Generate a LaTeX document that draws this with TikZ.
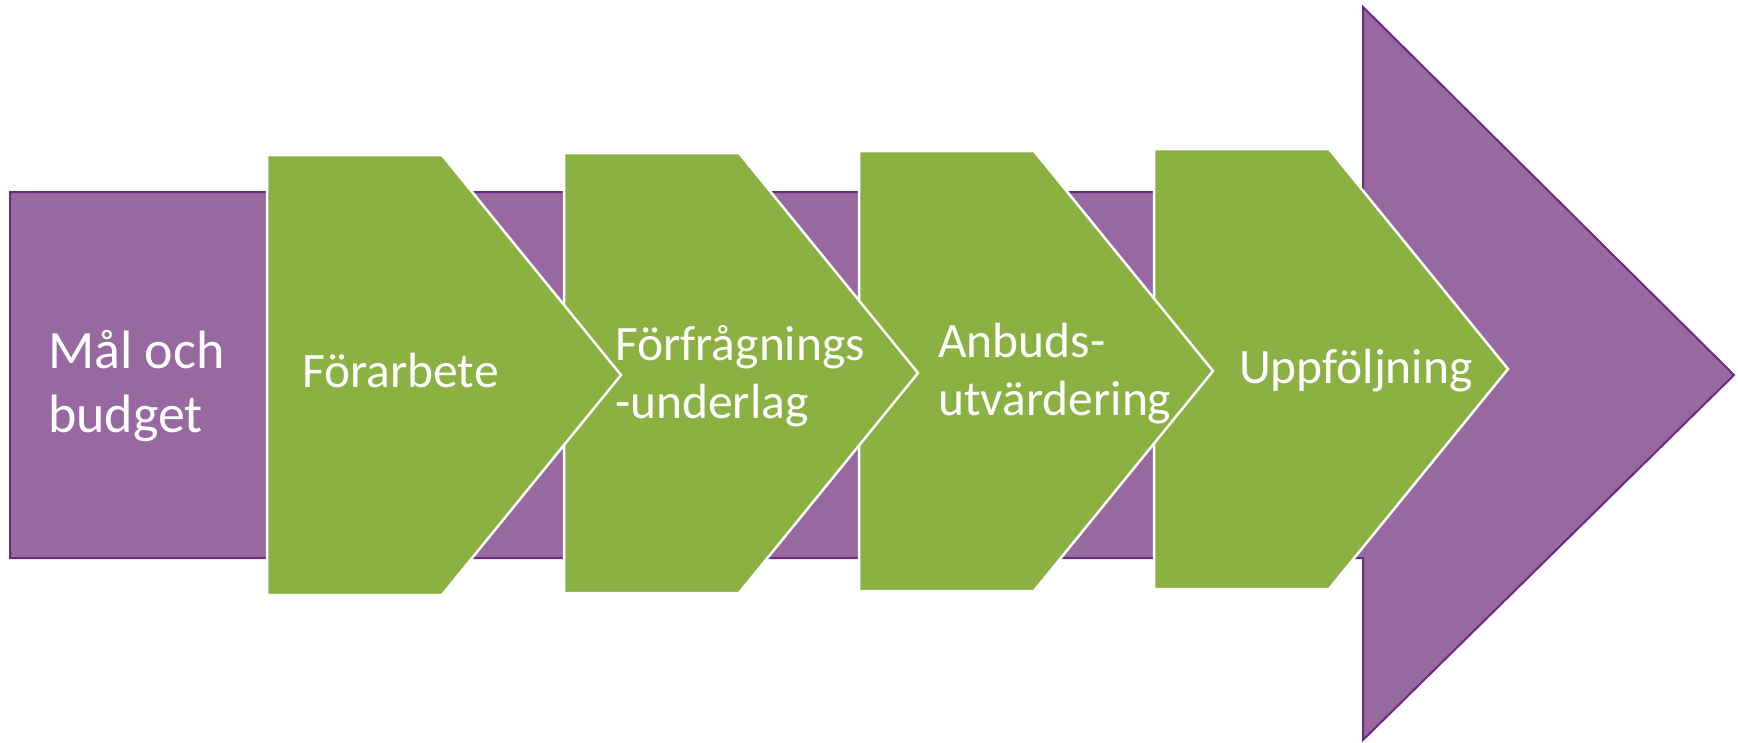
\documentclass[tikz,border=0pt]{standalone}
\usepackage{fontspec}
\setmainfont{Carlito}
\definecolor{purplefill}{HTML}{9868A1}
\definecolor{purpleline}{HTML}{6A2A82}
\definecolor{greenfill}{HTML}{8BB143}
\begin{document}
\begin{tikzpicture}[x=1pt,y=-1pt,
  bigarrow/.style={fill=purplefill,draw=purpleline,line width=2pt,line join=miter},
  chevron/.style={fill=greenfill,draw=white,line width=2.5pt,line join=miter},
  lbl/.style={text=white,inner sep=0pt,anchor=base west,align=left,font=\fontsize{49.5}{58}\selectfont},
  biglbl/.style={lbl,font=\fontsize{54}{64}\selectfont}]
\useasboundingbox (0,0) rectangle (1738,742);
% main purple arrow
\path[bigarrow] (10,192) -- (1363,192) -- (1363,7) -- (1734,375) -- (1363,740) -- (1363,558) -- (10,558) -- cycle;
% green chevrons (drawn from last to first so earlier ones overlap)
\path[chevron] (1154,149) -- (1329,149) -- (1508,369) -- (1329,589) -- (1154,589) -- cycle;
\path[chevron] (859,151) -- (1034,151) -- (1213,371) -- (1034,591) -- (859,591) -- cycle;
\path[chevron] (564,153) -- (739,153) -- (918,373) -- (739,593) -- (564,593) -- cycle;
\path[chevron] (267,155) -- (442,155) -- (621,375) -- (442,595) -- (267,595) -- cycle;
% labels (base anchor of a multi-line node is its last line)
\node[biglbl] (t0) at (48,432) {Mål och\\budget};
\node[lbl] (t1) at (302,387) {Förarbete};
\node[lbl] (t2) at (615,418) {Förfrågnings\\-underlag};
\node[lbl] (t3) at (938,415) {Anbuds-\\utvärdering};
\node[lbl] (t4) at (1239,383) {Uppföljning};
\end{tikzpicture}
\end{document}
